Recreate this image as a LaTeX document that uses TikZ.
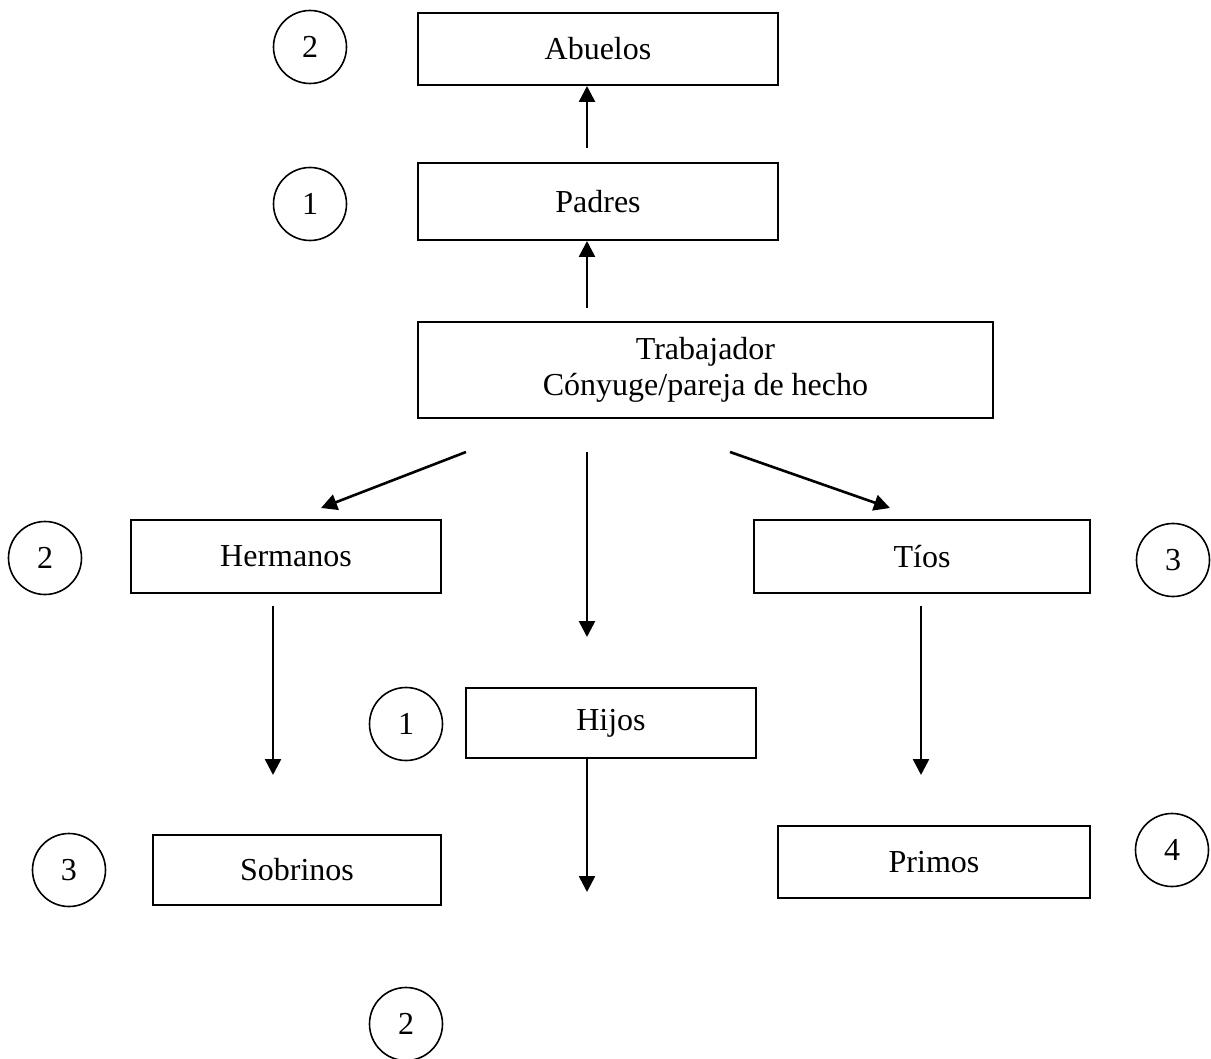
\documentclass[tikz,border=0pt]{standalone}
\usepackage{fontspec}
\setmainfont{Liberation Serif}
\usetikzlibrary{arrows.meta,positioning}

\begin{document}
\begin{tikzpicture}[x=0.5pt, y=-0.5pt, every node/.style={font=\fontsize{16}{18}\selectfont},
  box/.style={draw, rectangle, line width=1pt, inner sep=0pt, align=center},
  num/.style={draw, circle, line width=0.8pt, minimum size=36.5pt, inner sep=0pt},
  arr/.style={-{Triangle[width=8pt,length=8pt]}, line width=1.3pt}]
\useasboundingbox (0,0) rectangle (1211,1059);
% cajas
\node[box, minimum width=180pt, minimum height=36pt] (abuelos) at (598,49) {Abuelos};
\node[box, minimum width=180pt, minimum height=38.5pt] (padres) at (598,201.5) {Padres};
\node[box, minimum width=287.5pt, minimum height=48pt] (trabajador) at (705.5,370) {Trabajador\\C\'onyuge/pareja de hecho};
\node[box, minimum width=155pt, minimum height=36.5pt] (hermanos) at (286,556.5) {Hermanos};
\node[box, minimum width=168pt, minimum height=36.5pt] (tios) at (922,556.5) {T\'ios};
\node[box, minimum width=145pt, minimum height=35pt] (hijos) at (611,723) {Hijos};
\node[box, minimum width=144pt, minimum height=35pt] (sobrinos) at (297,870) {Sobrinos};
\node[box, minimum width=156pt, minimum height=36pt] (primos) at (934,862) {Primos};
% grados
\node[num] (gabuelos) at (310,47) {2};
\node[num] (gpadres) at (310,204) {1};
\node[num] (ghermanos) at (45,558) {2};
\node[num] (gtios) at (1173,560) {3};
\node[num] (ghijos) at (406,724) {1};
\node[num] (gsobrinos) at (69,870) {3};
\node[num] (gprimos) at (1172,850) {4};
\node[num] (gnietos) at (406,1024) {2};
% extremos libres
\coordinate (upa) at (587,148);
\coordinate (uptr) at (587,308);
\coordinate (izqa) at (466,452);
\coordinate (izqb) at (321,508);
\coordinate (cena) at (587,452);
\coordinate (cenb) at (587,637);
\coordinate (dera) at (730,452);
\coordinate (derb) at (890,508);
\coordinate (herb) at (273,775);
\coordinate (tiob) at (921,775);
\coordinate (hijb) at (587,892);
% flechas
\draw[arr] (upa) -- (upa |- abuelos.south);
\draw[arr] (uptr) -- (uptr |- padres.south);
\draw[arr] (izqa) -- (izqb);
\draw[arr] (cena) -- (cenb);
\draw[arr] (dera) -- (derb);
\draw[arr] (herb |- hermanos.south) ++(0,12) -- (herb);
\draw[arr] (tiob |- tios.south) ++(0,12) -- (tiob);
\draw[arr] (hijb |- hijos.south) -- (hijb);
\end{tikzpicture}
\end{document}
